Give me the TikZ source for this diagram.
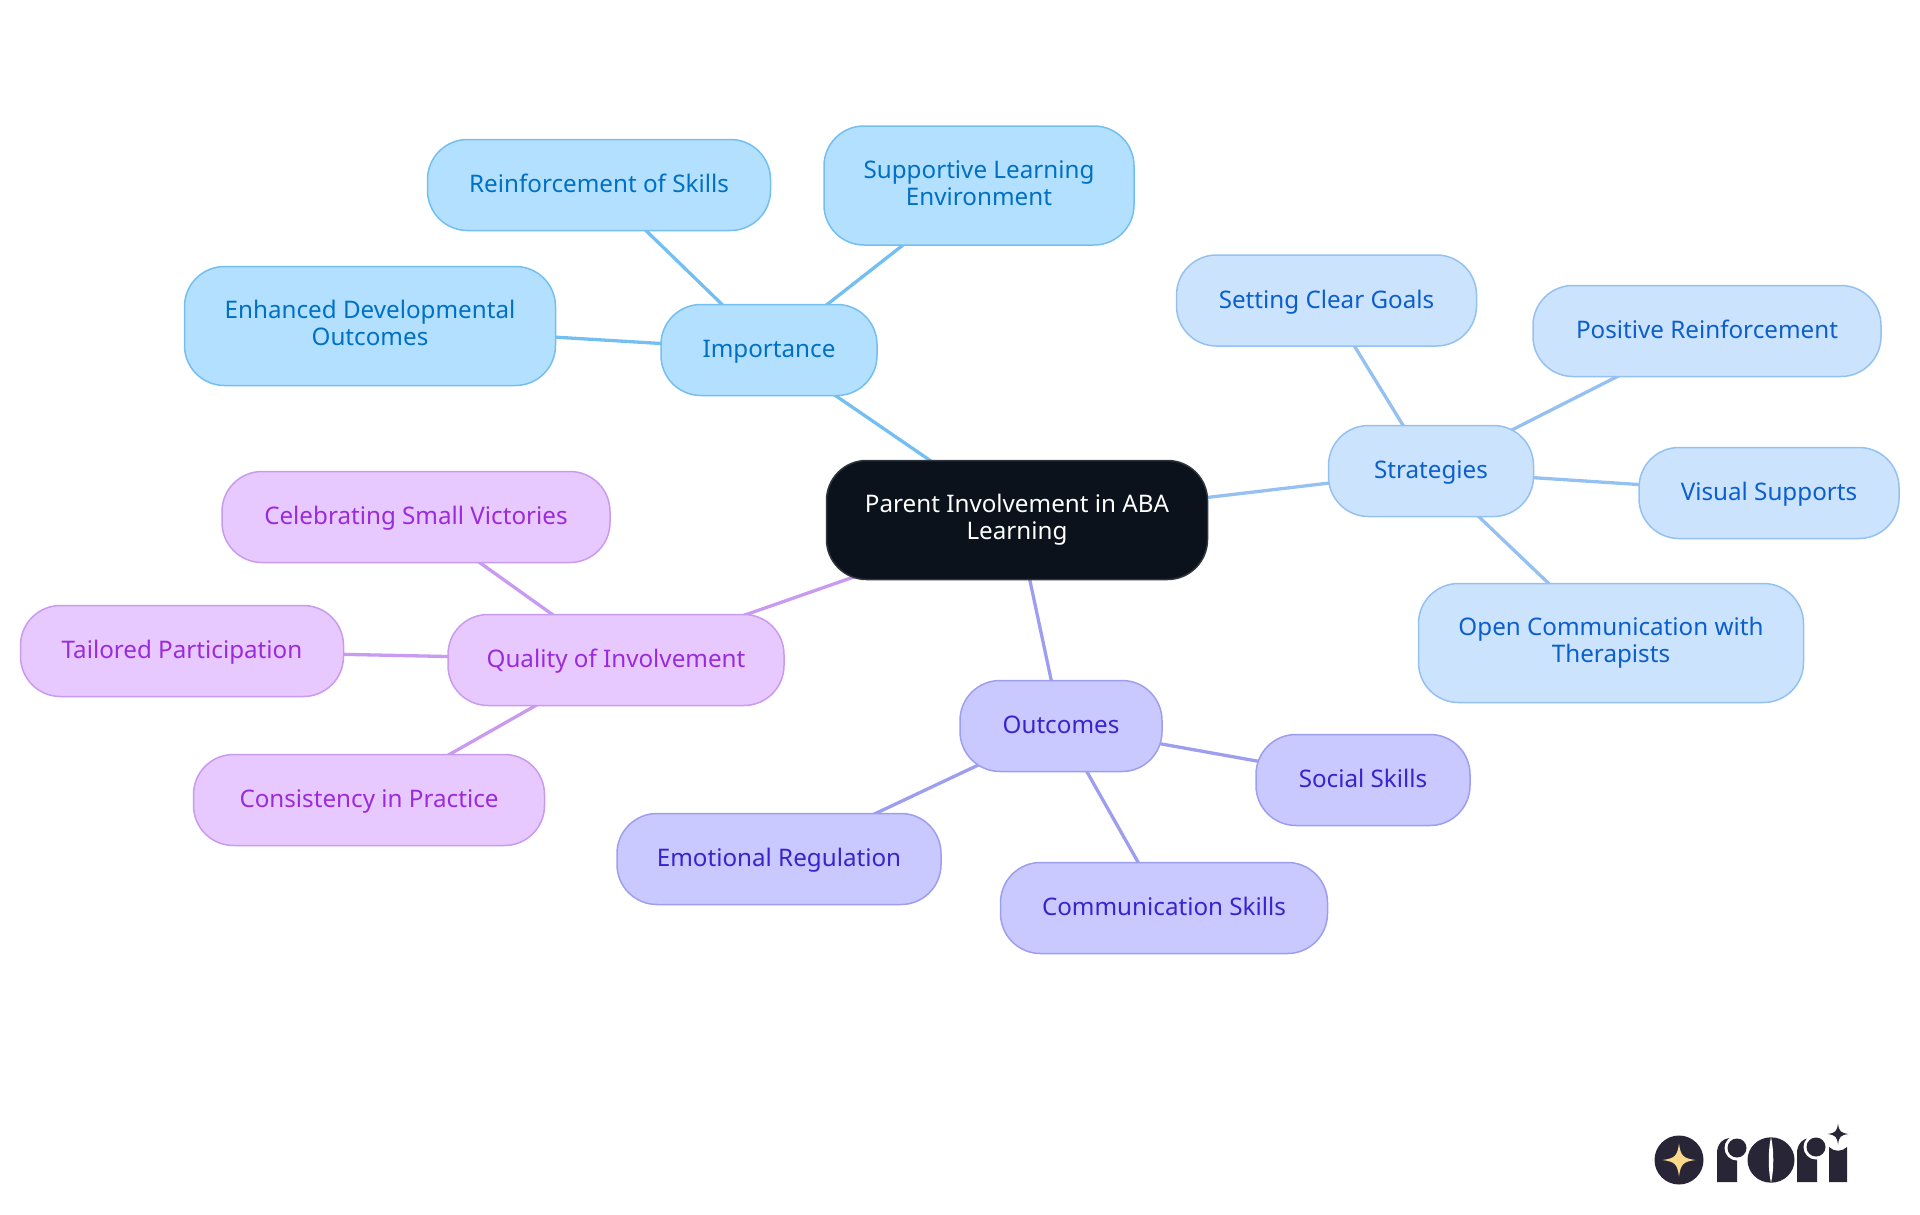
\documentclass[tikz,border=0pt]{standalone}
\usepackage{fontspec}
\setmainfont{Noto Sans}
\usetikzlibrary{backgrounds}

\definecolor{rootfill}{HTML}{0B121B}
\definecolor{impfill}{HTML}{B3E0FF}
\definecolor{impline}{HTML}{74BFF1}
\definecolor{imptext}{HTML}{0070C4}
\definecolor{stratfill}{HTML}{CCE3FD}
\definecolor{stratline}{HTML}{94C1F2}
\definecolor{strattext}{HTML}{0B5FCC}
\definecolor{outfill}{HTML}{C9C9FF}
\definecolor{outline}{HTML}{9E9EF0}
\definecolor{outtext}{HTML}{3A22CC}
\definecolor{qualfill}{HTML}{E8C9FF}
\definecolor{qualline}{HTML}{C99BF0}
\definecolor{qualtext}{HTML}{9A2BDB}
\definecolor{logodark}{HTML}{272536}
\definecolor{logocream}{HTML}{FBD98B}

\newcommand{\mapstrut}{\rule[-5.6pt]{0pt}{27pt}}

\tikzset{
    mapnode/.style={rounded corners=40pt,line width=1.5pt,align=center,inner sep=0pt,
        minimum height=91pt,font=\fontsize{24.2}{27}\selectfont,
        execute at begin node=\mapstrut,execute at end node=\mapstrut},
    rootnode/.style={mapnode,fill=rootfill,draw=rootfill!85!white,text=white,minimum height=119pt},
    impnode/.style={mapnode,fill=impfill,draw=impline,text=imptext},
    stratnode/.style={mapnode,fill=stratfill,draw=stratline,text=strattext},
    outnode/.style={mapnode,fill=outfill,draw=outline,text=outtext},
    qualnode/.style={mapnode,fill=qualfill,draw=qualline,text=qualtext},
    twolines/.style={minimum height=119pt},
    impedge/.style={draw=impline,line width=3.3pt},
    stratedge/.style={draw=stratline,line width=3.3pt},
    outedge/.style={draw=outline,line width=3.3pt},
    qualedge/.style={draw=qualline,line width=3.3pt},
    sparkle/.pic={
        \fill (0,-1) .. controls (0.1,-0.25) and (0.25,-0.1) .. (1,0)
            .. controls (0.25,0.1) and (0.1,0.25) .. (0,1)
            .. controls (-0.1,0.25) and (-0.25,0.1) .. (-1,0)
            .. controls (-0.25,-0.1) and (-0.1,-0.25) .. (0,-1) -- cycle;
    }
}

\begin{document}
\begin{tikzpicture}[x=1pt,y=-1pt]
    \useasboundingbox (0,0) rectangle (1920,1215);

    % Root
    \node[rootnode,minimum width=381pt] (root) at (1017,520) {Parent Involvement in ABA\\Learning};

    % Importance
    \node[impnode,minimum width=216pt] (importance) at (769,350) {Importance};
    \node[impnode,minimum width=343pt] (reinforcement) at (599,185) {Reinforcement of Skills};
    \node[impnode,twolines,minimum width=310pt] (supportive) at (979,185.5) {Supportive Learning\\Environment};
    \node[impnode,twolines,minimum width=371pt] (enhanced) at (370,326) {Enhanced Developmental\\Outcomes};

    % Strategies
    \node[stratnode,minimum width=205pt] (strategies) at (1431,471) {Strategies};
    \node[stratnode,minimum width=300pt] (goals) at (1326.5,300.5) {Setting Clear Goals};
    \node[stratnode,minimum width=348pt] (positive) at (1707,331) {Positive Reinforcement};
    \node[stratnode,minimum width=260pt] (visual) at (1769,493) {Visual Supports};
    \node[stratnode,twolines,minimum width=385pt] (open) at (1611,643) {Open Communication with\\Therapists};

    % Outcomes
    \node[outnode,minimum width=202pt] (outcomes) at (1061,726) {Outcomes};
    \node[outnode,minimum width=214pt] (social) at (1363,780) {Social Skills};
    \node[outnode,minimum width=327pt] (communication) at (1164,908) {Communication Skills};
    \node[outnode,minimum width=324pt] (emotional) at (779,859) {Emotional Regulation};

    % Quality of involvement
    \node[qualnode,minimum width=336pt] (quality) at (616,660) {Quality of Involvement};
    \node[qualnode,minimum width=388pt] (celebrating) at (416,517) {Celebrating Small Victories};
    \node[qualnode,minimum width=323pt] (tailored) at (182,651) {Tailored Participation};
    \node[qualnode,minimum width=351pt] (consistency) at (369,800) {Consistency in Practice};

    % Connectors, centre to centre behind the nodes
    \begin{pgfonlayer}{background}
        \draw[impedge] (root.center) -- (importance.center);
        \draw[impedge] (importance.center) -- (reinforcement.center);
        \draw[impedge] (importance.center) -- (supportive.center);
        \draw[impedge] (importance.center) -- (enhanced.center);

        \draw[stratedge] (root.center) -- (strategies.center);
        \draw[stratedge] (strategies.center) -- (goals.center);
        \draw[stratedge] (strategies.center) -- (positive.center);
        \draw[stratedge] (strategies.center) -- (visual.center);
        \draw[stratedge] (strategies.center) -- (open.center);

        \draw[outedge] (root.center) -- (outcomes.center);
        \draw[outedge] (outcomes.center) -- (social.center);
        \draw[outedge] (outcomes.center) -- (communication.center);
        \draw[outedge] (outcomes.center) -- (emotional.center);

        \draw[qualedge] (root.center) -- (quality.center);
        \draw[qualedge] (quality.center) -- (celebrating.center);
        \draw[qualedge] (quality.center) -- (tailored.center);
        \draw[qualedge] (quality.center) -- (consistency.center);
    \end{pgfonlayer}

    % Logo
    \fill[logodark] (1679,1160) circle (24.5);
    \pic[logocream,scale=16.5] at (1679,1160) {sparkle};
    % first r
    \fill[logodark] (1717,1182) -- (1717,1153) .. controls (1717,1145) and (1722,1138) .. (1731,1138) -- (1737,1138) -- (1737,1182) -- cycle;
    \fill[white] (1737,1148) circle (12.5);
    \fill[logodark] (1737,1148) circle (9.5);
    % o
    \fill[logodark] (1771,1160) ellipse (23.5 and 22.7);
    \fill[white] (1771,1137) .. controls (1768,1150) and (1768,1170) .. (1771,1183) .. controls (1774,1170) and (1774,1150) .. (1771,1137) -- cycle;
    % second r
    \fill[logodark] (1797,1182) -- (1797,1153) .. controls (1797,1145) and (1802,1138) .. (1811,1138) -- (1817,1138) -- (1817,1182) -- cycle;
    \fill[white] (1816,1147) circle (12.5);
    \fill[logodark] (1816,1147) circle (9.5);
    % i and its star
    \fill[logodark] (1829,1182) -- (1829,1147) .. controls (1834,1152) and (1842,1152) .. (1847,1147) -- (1847,1182) -- cycle;
    \pic[logodark,scale=10.5] at (1838,1134) {sparkle};
\end{tikzpicture}
\end{document}
